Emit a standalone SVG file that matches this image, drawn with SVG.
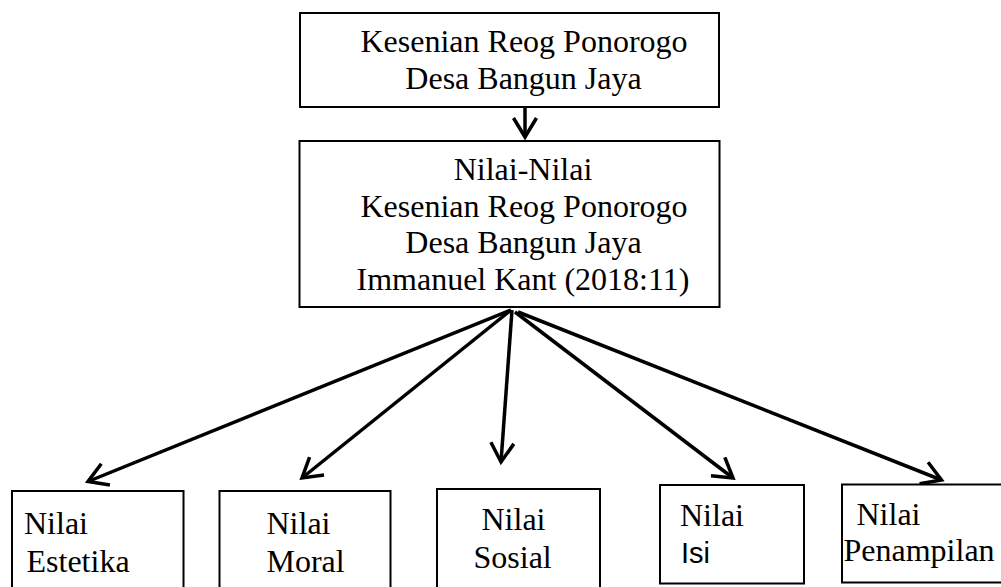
<svg xmlns="http://www.w3.org/2000/svg" width="1001" height="587" viewBox="0 0 1001 587">
<style>
.box{fill:#fff;stroke:#000;stroke-width:2}
.t{font-family:"Liberation Serif","Times New Roman",serif;font-size:32px;fill:#000}
.c{text-anchor:middle}
.s{font-family:"Liberation Sans",Arial,sans-serif;font-size:29px;fill:#000}
.ln{stroke:#000;stroke-width:3.5;fill:none;marker-end:url(#ah)}
</style>
<defs>
<marker id="ah" viewBox="0 0 26 26" refX="22" refY="13" markerWidth="26" markerHeight="26" markerUnits="userSpaceOnUse" orient="auto">
<path d="M3,1.5 L22,13 L3,24.5" fill="none" stroke="#000" stroke-width="3.5"/>
</marker>
</defs>
<rect width="1001" height="587" fill="#fff"/>
<g id="connectors">
<line class="ln" x1="525" y1="107" x2="525" y2="137"/>
<line class="ln" x1="511" y1="310" x2="88" y2="481.5"/>
<line class="ln" x1="511" y1="310" x2="302" y2="478"/>
<line class="ln" x1="512" y1="310" x2="501" y2="462"/>
<line class="ln" x1="515" y1="312" x2="733" y2="478"/>
<line class="ln" x1="518" y1="312" x2="941.5" y2="480"/>
</g>
<g id="top">
<rect class="box" x="300" y="13" width="419" height="94"/>
<text class="t c" x="524" y="52">Kesenian Reog Ponorogo</text>
<text class="t c" x="523.5" y="89">Desa Bangun Jaya</text>
</g>
<g id="nilai">
<rect class="box" x="299.5" y="141" width="420" height="166"/>
<text class="t c" x="523" y="180">Nilai-Nilai</text>
<text class="t c" x="524" y="216.5">Kesenian Reog Ponorogo</text>
<text class="t c" x="523.5" y="253">Desa Bangun Jaya</text>
<text class="t c" x="523" y="290">Immanuel Kant (2018:11)</text>
</g>
<g id="estetika">
<rect class="box" x="12" y="491" width="171.5" height="110"/>
<text class="t" x="24" y="534">Nilai</text>
<text class="t" x="26.5" y="571.5">Estetika</text>
</g>
<g id="moral">
<rect class="box" x="219.5" y="491" width="171" height="110"/>
<text class="t" x="266.5" y="534">Nilai</text>
<text class="t" x="266.5" y="571.5">Moral</text>
</g>
<g id="sosial">
<rect class="box" x="437" y="489" width="163" height="110"/>
<text class="t" x="481.5" y="530">Nilai</text>
<text class="t" x="473.5" y="568">Sosial</text>
</g>
<g id="isi">
<rect class="box" x="660" y="485" width="144" height="98.5"/>
<text class="t" x="680" y="525.5">Nilai</text>
<text class="s" x="681" y="563">Isi</text>
</g>
<g id="penampilan">
<rect class="box" x="842" y="484.5" width="170" height="98"/>
<text class="t" x="856.5" y="524.5">Nilai</text>
<text class="t" x="843.5" y="561">Penampilan</text>
</g>
</svg>
